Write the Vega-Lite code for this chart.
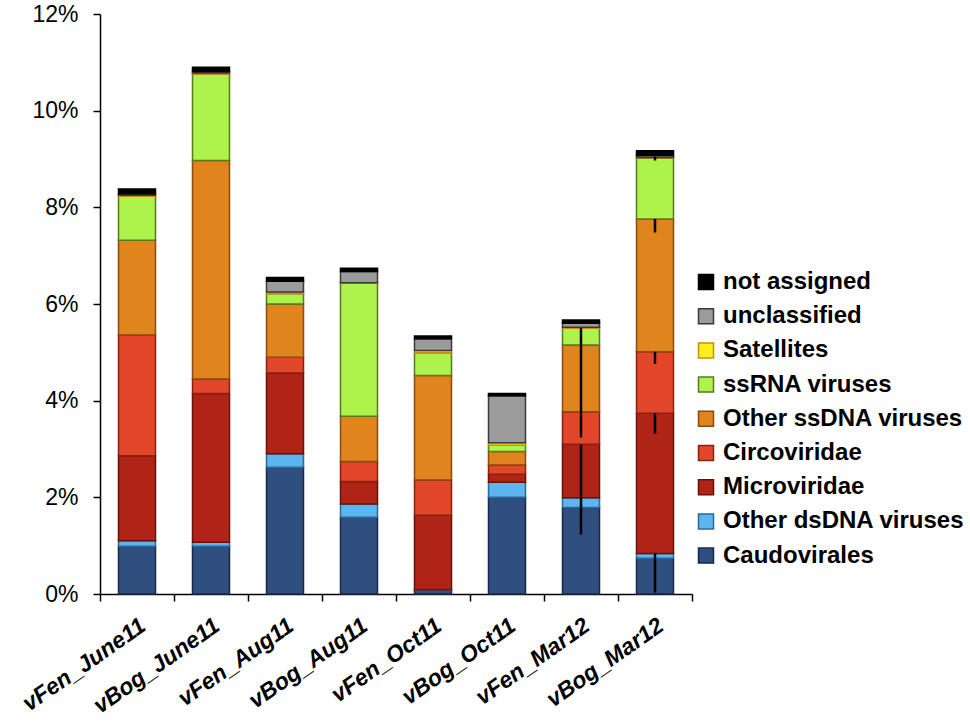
{
  "$schema": "https://vega.github.io/schema/vega-lite/v6.json",
  "width": 592,
  "height": 580,
  "autosize": {"type": "none"},
  "padding": {"left": 100, "top": 14, "right": 278, "bottom": 128},
  "background": "white",
  "config": {"view": {"stroke": null}, "font": "Liberation Sans"},
  "datasets": {
    "bars": [
      {"sample": "vFen_June11", "category": "Caudovirales", "rank": 1, "value": 0.99},
      {"sample": "vFen_June11", "category": "Other dsDNA viruses", "rank": 2, "value": 0.11},
      {"sample": "vFen_June11", "category": "Microviridae", "rank": 3, "value": 1.76},
      {"sample": "vFen_June11", "category": "Circoviridae", "rank": 4, "value": 2.50},
      {"sample": "vFen_June11", "category": "Other ssDNA viruses", "rank": 5, "value": 1.96},
      {"sample": "vFen_June11", "category": "ssRNA viruses", "rank": 6, "value": 0.91},
      {"sample": "vFen_June11", "category": "Satellites", "rank": 7, "value": 0.02},
      {"sample": "vFen_June11", "category": "unclassified", "rank": 8, "value": 0.03},
      {"sample": "vFen_June11", "category": "not assigned", "rank": 9, "value": 0.10},

      {"sample": "vBog_June11", "category": "Caudovirales", "rank": 1, "value": 0.99},
      {"sample": "vBog_June11", "category": "Other dsDNA viruses", "rank": 2, "value": 0.08},
      {"sample": "vBog_June11", "category": "Microviridae", "rank": 3, "value": 3.08},
      {"sample": "vBog_June11", "category": "Circoviridae", "rank": 4, "value": 0.30},
      {"sample": "vBog_June11", "category": "Other ssDNA viruses", "rank": 5, "value": 4.52},
      {"sample": "vBog_June11", "category": "ssRNA viruses", "rank": 6, "value": 1.79},
      {"sample": "vBog_June11", "category": "Satellites", "rank": 7, "value": 0.02},
      {"sample": "vBog_June11", "category": "unclassified", "rank": 8, "value": 0.03},
      {"sample": "vBog_June11", "category": "not assigned", "rank": 9, "value": 0.09},

      {"sample": "vFen_Aug11", "category": "Caudovirales", "rank": 1, "value": 2.62},
      {"sample": "vFen_Aug11", "category": "Other dsDNA viruses", "rank": 2, "value": 0.28},
      {"sample": "vFen_Aug11", "category": "Microviridae", "rank": 3, "value": 1.67},
      {"sample": "vFen_Aug11", "category": "Circoviridae", "rank": 4, "value": 0.33},
      {"sample": "vFen_Aug11", "category": "Other ssDNA viruses", "rank": 5, "value": 1.10},
      {"sample": "vFen_Aug11", "category": "ssRNA viruses", "rank": 6, "value": 0.21},
      {"sample": "vFen_Aug11", "category": "Satellites", "rank": 7, "value": 0.04},
      {"sample": "vFen_Aug11", "category": "unclassified", "rank": 8, "value": 0.22},
      {"sample": "vFen_Aug11", "category": "not assigned", "rank": 9, "value": 0.08},

      {"sample": "vBog_Aug11", "category": "Caudovirales", "rank": 1, "value": 1.59},
      {"sample": "vBog_Aug11", "category": "Other dsDNA viruses", "rank": 2, "value": 0.27},
      {"sample": "vBog_Aug11", "category": "Microviridae", "rank": 3, "value": 0.47},
      {"sample": "vBog_Aug11", "category": "Circoviridae", "rank": 4, "value": 0.41},
      {"sample": "vBog_Aug11", "category": "Other ssDNA viruses", "rank": 5, "value": 0.94},
      {"sample": "vBog_Aug11", "category": "ssRNA viruses", "rank": 6, "value": 2.75},
      {"sample": "vBog_Aug11", "category": "Satellites", "rank": 7, "value": 0.01},
      {"sample": "vBog_Aug11", "category": "unclassified", "rank": 8, "value": 0.23},
      {"sample": "vBog_Aug11", "category": "not assigned", "rank": 9, "value": 0.07},

      {"sample": "vFen_Oct11", "category": "Caudovirales", "rank": 1, "value": 0.08},
      {"sample": "vFen_Oct11", "category": "Other dsDNA viruses", "rank": 2, "value": 0.01},
      {"sample": "vFen_Oct11", "category": "Microviridae", "rank": 3, "value": 1.54},
      {"sample": "vFen_Oct11", "category": "Circoviridae", "rank": 4, "value": 0.73},
      {"sample": "vFen_Oct11", "category": "Other ssDNA viruses", "rank": 5, "value": 2.16},
      {"sample": "vFen_Oct11", "category": "ssRNA viruses", "rank": 6, "value": 0.47},
      {"sample": "vFen_Oct11", "category": "Satellites", "rank": 7, "value": 0.05},
      {"sample": "vFen_Oct11", "category": "unclassified", "rank": 8, "value": 0.24},
      {"sample": "vFen_Oct11", "category": "not assigned", "rank": 9, "value": 0.06},

      {"sample": "vBog_Oct11", "category": "Caudovirales", "rank": 1, "value": 2.00},
      {"sample": "vBog_Oct11", "category": "Other dsDNA viruses", "rank": 2, "value": 0.31},
      {"sample": "vBog_Oct11", "category": "Microviridae", "rank": 3, "value": 0.17},
      {"sample": "vBog_Oct11", "category": "Circoviridae", "rank": 4, "value": 0.19},
      {"sample": "vBog_Oct11", "category": "Other ssDNA viruses", "rank": 5, "value": 0.28},
      {"sample": "vBog_Oct11", "category": "ssRNA viruses", "rank": 6, "value": 0.13},
      {"sample": "vBog_Oct11", "category": "Satellites", "rank": 7, "value": 0.05},
      {"sample": "vBog_Oct11", "category": "unclassified", "rank": 8, "value": 0.97},
      {"sample": "vBog_Oct11", "category": "not assigned", "rank": 9, "value": 0.05},

      {"sample": "vFen_Mar12", "category": "Caudovirales", "rank": 1, "value": 1.79},
      {"sample": "vFen_Mar12", "category": "Other dsDNA viruses", "rank": 2, "value": 0.20},
      {"sample": "vFen_Mar12", "category": "Microviridae", "rank": 3, "value": 1.11},
      {"sample": "vFen_Mar12", "category": "Circoviridae", "rank": 4, "value": 0.67},
      {"sample": "vFen_Mar12", "category": "Other ssDNA viruses", "rank": 5, "value": 1.38},
      {"sample": "vFen_Mar12", "category": "ssRNA viruses", "rank": 6, "value": 0.35},
      {"sample": "vFen_Mar12", "category": "Satellites", "rank": 7, "value": 0.02},
      {"sample": "vFen_Mar12", "category": "unclassified", "rank": 8, "value": 0.08},
      {"sample": "vFen_Mar12", "category": "not assigned", "rank": 9, "value": 0.07},

      {"sample": "vBog_Mar12", "category": "Caudovirales", "rank": 1, "value": 0.74},
      {"sample": "vBog_Mar12", "category": "Other dsDNA viruses", "rank": 2, "value": 0.10},
      {"sample": "vBog_Mar12", "category": "Microviridae", "rank": 3, "value": 2.90},
      {"sample": "vBog_Mar12", "category": "Circoviridae", "rank": 4, "value": 1.27},
      {"sample": "vBog_Mar12", "category": "Other ssDNA viruses", "rank": 5, "value": 2.75},
      {"sample": "vBog_Mar12", "category": "ssRNA viruses", "rank": 6, "value": 1.26},
      {"sample": "vBog_Mar12", "category": "Satellites", "rank": 7, "value": 0.01},
      {"sample": "vBog_Mar12", "category": "unclassified", "rank": 8, "value": 0.04},
      {"sample": "vBog_Mar12", "category": "not assigned", "rank": 9, "value": 0.10}
    ],
    "errs": [
      {"sample": "vFen_Mar12", "lo": 3.24, "hi": 5.50},
      {"sample": "vFen_Mar12", "lo": 1.23, "hi": 3.09},
      {"sample": "vBog_Mar12", "lo": 0.03, "hi": 0.84},
      {"sample": "vBog_Mar12", "lo": 3.32, "hi": 3.74},
      {"sample": "vBog_Mar12", "lo": 4.76, "hi": 5.01},
      {"sample": "vBog_Mar12", "lo": 7.48, "hi": 7.76},
      {"sample": "vBog_Mar12", "lo": 8.97, "hi": 9.05}
    ]
  },
  "layer": [
    {
      "data": {"name": "bars"},
      "mark": {"type": "bar", "strokeWidth": 1.5, "width": {"band": 0.5}},
      "encoding": {
        "x": {
          "field": "sample",
          "type": "nominal",
          "sort": ["vFen_June11", "vBog_June11", "vFen_Aug11", "vBog_Aug11", "vFen_Oct11", "vBog_Oct11", "vFen_Mar12", "vBog_Mar12"],
          "scale": {"paddingInner": 0, "paddingOuter": 0},
          "axis": {
            "title": null,
            "bandPosition": 1,
            "tickExtra": true,
            "labelAngle": -35,
            "labelFontSize": 23,
            "labelFontWeight": "bold",
            "labelFontStyle": "italic",
            "labelColor": "black",
            "labelPadding": 13,
            "labelLimit": 0,
            "tickColor": "black",
            "tickSize": 7,
            "tickWidth": 1.5,
            "domainColor": "black",
            "domainWidth": 1.5
          }
        },
        "y": {
          "field": "value",
          "type": "quantitative",
          "stack": "zero",
          "scale": {"domain": [0, 12], "nice": false},
          "axis": {
            "title": null,
            "values": [0, 2, 4, 6, 8, 10, 12],
            "labelExpr": "datum.value + '%'",
            "labelFontSize": 23,
            "labelColor": "black",
            "labelPadding": 15,
            "tickSize": 7,
            "tickColor": "black",
            "tickWidth": 1.5,
            "domainColor": "black",
            "domainWidth": 1.5,
            "grid": false
          }
        },
        "fill": {
          "field": "category",
          "type": "nominal",
          "scale": {
            "domain": ["not assigned", "unclassified", "Satellites", "ssRNA viruses", "Other ssDNA viruses", "Circoviridae", "Microviridae", "Other dsDNA viruses", "Caudovirales"],
            "range": ["#000000", "#9b9b9b", "#ffef1a", "#aef24c", "#e0841e", "#e3472a", "#b02418", "#5cb5ef", "#2f4f7e"]
          },
          "legend": {
            "title": null,
            "orient": "none",
            "legendX": 594,
            "legendY": 256,
            "padding": 0,
            "symbolType": "square",
            "symbolSize": 225,
            "symbolStrokeWidth": 1.5,
            "symbolOpacity": 1,
            "labelFontSize": 24,
            "labelFontWeight": "bold",
            "labelColor": "black",
            "labelOffset": 5,
            "labelLimit": 0,
            "rowPadding": 10.2
          }
        },
        "stroke": {
          "field": "category",
          "type": "nominal",
          "scale": {
            "domain": ["not assigned", "unclassified", "Satellites", "ssRNA viruses", "Other ssDNA viruses", "Circoviridae", "Microviridae", "Other dsDNA viruses", "Caudovirales"],
            "range": ["#000000", "#3a3a3a", "#d08a10", "#5a7a20", "#8a4a10", "#8a2010", "#6a1008", "#2a6a9a", "#1a2a4a"]
          },
          "legend": {
            "title": null,
            "orient": "none",
            "legendX": 594,
            "legendY": 256,
            "padding": 0,
            "symbolType": "square",
            "symbolSize": 225,
            "symbolStrokeWidth": 1.5,
            "symbolOpacity": 1,
            "labelFontSize": 24,
            "labelFontWeight": "bold",
            "labelColor": "black",
            "labelOffset": 5,
            "labelLimit": 0,
            "rowPadding": 10.2
          }
        },
        "order": {"field": "rank", "type": "quantitative"}
      }
    },
    {
      "data": {"name": "errs"},
      "mark": {"type": "rule", "strokeWidth": 2.5, "color": "black"},
      "encoding": {
        "x": {
          "field": "sample",
          "type": "nominal",
          "sort": ["vFen_June11", "vBog_June11", "vFen_Aug11", "vBog_Aug11", "vFen_Oct11", "vBog_Oct11", "vFen_Mar12", "vBog_Mar12"]
        },
        "y": {"field": "lo", "type": "quantitative"},
        "y2": {"field": "hi"}
      }
    }
  ]
}
